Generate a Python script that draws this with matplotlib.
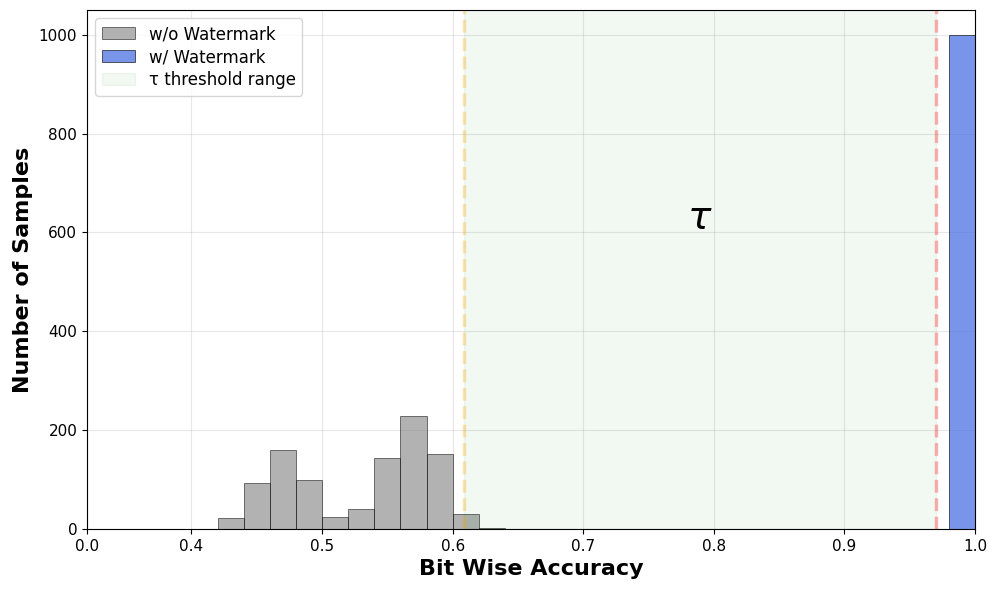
import matplotlib.pyplot as plt
import numpy as np

# histogram bins (left edges, width 0.02) and counts
bin_width = 0.02
no_wm_left = [0.42, 0.44, 0.46, 0.48, 0.50, 0.52, 0.54, 0.56, 0.58, 0.60, 0.62]
no_wm_counts = [22, 94, 159, 100, 25, 41, 144, 228, 152, 31, 2]
wm_left = [0.98]
wm_counts = [1000]

tau_low = 0.609
tau_high = 0.970

xtick_pos = [0.32, 0.4, 0.5, 0.6, 0.7, 0.8, 0.9, 1.0]
xtick_labels = ["0.0", "0.4", "0.5", "0.6", "0.7", "0.8", "0.9", "1.0"]
ytick_pos = [0, 200, 400, 600, 800, 1000]


def main():
    fig = plt.figure(figsize=(9.97, 5.92), dpi=100)
    ax = fig.add_axes([87 / 997, 1 - 529 / 592, 888 / 997, 519 / 592])

    b1 = ax.bar(no_wm_left, no_wm_counts, width=bin_width, align="edge",
                color="gray", alpha=0.6, edgecolor="black", linewidth=0.6,
                label="w/o Watermark")
    b2 = ax.bar(wm_left, wm_counts, width=bin_width, align="edge",
                color="royalblue", alpha=0.7, edgecolor="black", linewidth=0.6,
                label="w/ Watermark")

    span = ax.axvspan(tau_low, tau_high, color="green", alpha=0.05,
                      label="τ threshold range")
    ax.axvline(tau_low, color="orange", linestyle="--", linewidth=2.5, alpha=0.3)
    ax.axvline(tau_high, color="red", linestyle="--", linewidth=2.5, alpha=0.3)

    ax.text((tau_low + tau_high) / 2, 630, r"$\tau$", fontsize=28,
            ha="center", va="center")

    ax.set_xlim(0.32, 1.0)
    ax.set_ylim(0, 1050)
    ax.set_xticks(xtick_pos)
    ax.set_xticklabels(xtick_labels)
    ax.set_yticks(ytick_pos)
    ax.tick_params(labelsize=11)

    ax.set_xlabel("Bit Wise Accuracy", fontsize=16, fontweight="bold")
    ax.set_ylabel("Number of Samples", fontsize=16, fontweight="bold")
    ax.grid(True, alpha=0.3)
    ax.set_axisbelow(True)
    ax.legend(handles=[b1, b2, span], loc="upper left", fontsize=12,
              labelspacing=0.3, handlelength=2.0)

    fig.savefig("out.png", dpi=100)


if __name__ == "__main__":
    main()
